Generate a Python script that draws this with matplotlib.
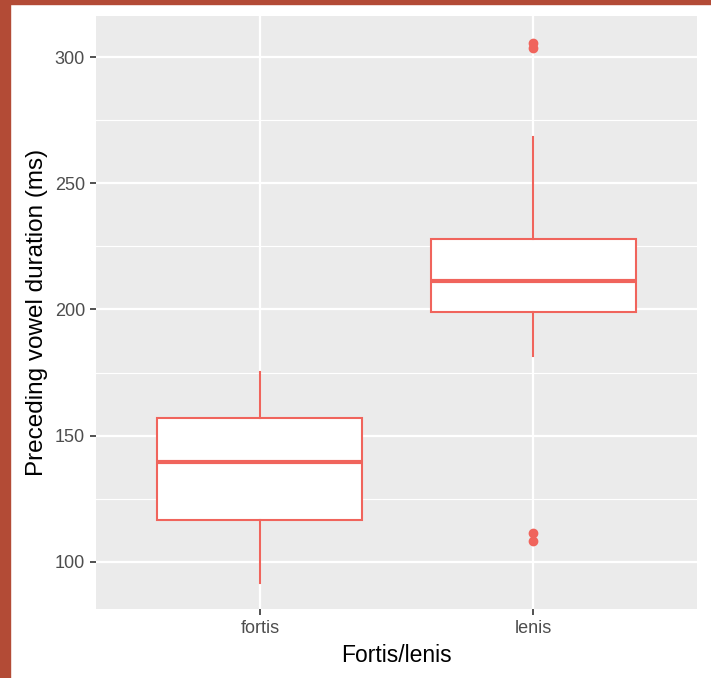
import matplotlib
matplotlib.use("Agg")
import matplotlib.pyplot as plt
from matplotlib.patches import Rectangle
from matplotlib.ticker import MultipleLocator

plt.rcParams["font.family"] = ["Liberation Sans", "DejaVu Sans"]

# values
groups = ["fortis", "lenis"]
whislo = [91.5, 181.7]
q1 = [116.6, 198.8]
med = [139.7, 211.1]
q3 = [157.1, 227.8]
whishi = [175.4, 268.3]
fliers = [[], [305.6, 303.6, 111.5, 108.3]]

col = "#F0645C"

stats = []
for i in range(len(groups)):
    stats.append({"label": groups[i], "whislo": whislo[i], "q1": q1[i], "med": med[i],
                  "q3": q3[i], "whishi": whishi[i], "fliers": fliers[i]})

fig = plt.figure(figsize=(7.11, 6.78), dpi=100)
fig.patch.set_facecolor("white")
# brown frame of the screenshot
fig.patches.append(Rectangle((0, 0), 10 / 711, 1, transform=fig.transFigure,
                             color="#B34B36", zorder=0))
fig.patches.append(Rectangle((0, 1 - 4 / 678), 1, 4 / 678, transform=fig.transFigure,
                             color="#B34B36", zorder=0))

ax = fig.add_axes([96 / 711, 1 - 609 / 678, 601 / 711, 593 / 678])
ax.set_facecolor("#EBEBEB")
for s in ax.spines.values():
    s.set_visible(False)

ax.bxp(stats, positions=[1, 2], widths=0.75, patch_artist=True, showcaps=False,
       boxprops=dict(facecolor="white", edgecolor=col, linewidth=1.5),
       medianprops=dict(color=col, linewidth=3),
       whiskerprops=dict(color=col, linewidth=1.5),
       flierprops=dict(marker="o", markerfacecolor=col, markeredgecolor=col, markersize=6),
       zorder=3)

ax.set_xlim(0.4, 2.6)
ax.set_ylim(81.3, 316.3)
ax.yaxis.set_major_locator(MultipleLocator(50))
ax.yaxis.set_minor_locator(MultipleLocator(25))
ax.set_xticks([1, 2])
ax.set_xticklabels(groups)
ax.grid(which="major", color="white", linewidth=1.6, zorder=0)
ax.grid(which="minor", axis="y", color="white", linewidth=0.8, zorder=0)
ax.set_axisbelow(True)
ax.tick_params(which="major", length=4, width=1.2, color="#333333", labelcolor="#4D4D4D",
               labelsize=13, pad=4)
ax.tick_params(which="minor", length=0)

ax.set_xlabel("Fortis/lenis", fontsize=16.5, color="black", labelpad=5)
ax.set_ylabel("Preceding vowel duration (ms)", fontsize=17.5, color="black", labelpad=5)

fig.savefig("out.png", dpi=100)
